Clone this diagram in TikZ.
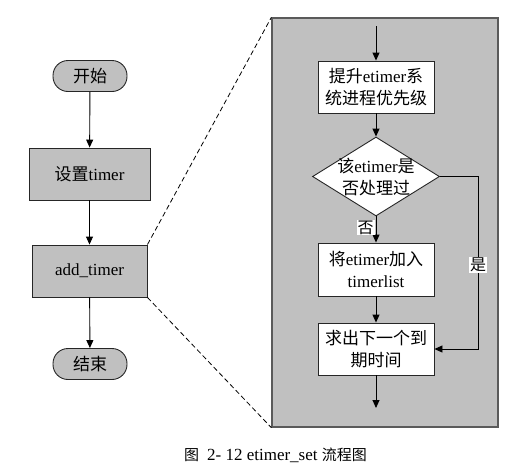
\documentclass[tikz,border=0pt]{standalone}
\usepackage{fontspec}
\setmainfont{Liberation Serif}
\newfontfamily\cjk{Noto Sans CJK SC}
\usetikzlibrary{shapes.geometric,arrows.meta}
\newcommand\zh[1]{{\cjk #1}}
\definecolor{boxgray}{RGB}{192,192,192}
\definecolor{panelline}{RGB}{90,90,90}
\tikzset{
  box/.style={draw=black!85, line width=0.9pt, rectangle, inner sep=0pt, align=center,
    font=\fontsize{17}{22}\selectfont},
  grayfill/.style={fill=boxgray},
  whitefill/.style={fill=white},
  term/.style={draw=black!85, line width=0.9pt, rounded corners=15pt, fill=boxgray,
    minimum width=74pt, minimum height=31pt, inner sep=0pt, font=\fontsize{17}{20}\selectfont},
  arr/.style={line width=0.9pt, -{Triangle[length=8pt,width=7pt]}},
  lbl/.style={fill=white, inner sep=1pt, font=\fontsize{16}{18}\selectfont},
  zoomline/.style={line width=0.8pt, dash pattern=on 5pt off 3pt},
}
\begin{document}
\begin{tikzpicture}[x=1pt,y=-1pt]
\useasboundingbox (0,0) rectangle (520,467);
% left column
\node[term] (start) at (90,76) {\zh{开始}};
\node[box,grayfill,minimum width=121pt,minimum height=52pt] (set) at (89.5,174) {\zh{设置}timer};
\node[box,grayfill,minimum width=115pt,minimum height=52pt] (add) at (89.5,271) {add\_timer};
\node[term] (end) at (90,364) {\zh{结束}};
\draw[arr] (start) -- (set);
\draw[arr] (set) -- (add);
\draw[arr] (add) -- (end);
% panel
\node[draw=panelline, line width=1.3pt, fill=boxgray, minimum width=226pt, minimum height=409pt, inner sep=0pt] (panel) at (385,222.5) {};
\draw[zoomline] (add.north east) -- (panel.north west);
\draw[zoomline] (add.south east) -- (panel.south west);
% inner flow
\coordinate (in) at (376,26);
\coordinate (out) at (376,408);
\node[box,whitefill,minimum width=116pt,minimum height=52pt] (b1) at (376,87) {\zh{提升}etimer\zh{系}\\\zh{统进程优先级}};
\node[draw=black!85, line width=0.9pt, fill=white, diamond, minimum width=127pt, minimum height=79pt, inner sep=0pt] (dia) at (376,176.5) {};
\node[align=center, inner sep=0pt, font=\fontsize{17}{22}\selectfont] (diat) at (dia.center) {\zh{该}etimer\zh{是}\\\zh{否处理过}};
\node[box,whitefill,minimum width=116pt,minimum height=53pt] (b2) at (376,269.5) {\zh{将}etimer\zh{加入}\\timerlist};
\node[box,whitefill,minimum width=116pt,minimum height=52pt] (b3) at (376,349) {\zh{求出下一个到}\\\zh{期时间}};
\coordinate (yc) at (478,349);
\draw[arr] (in) -- (b1);
\draw[arr] (b1) -- (dia);
\draw[arr] (dia) -- (b2) node[lbl, pos=0.42, left=1pt] (no) {\zh{否}};
\draw[arr] (b2) -- (b3);
\draw[arr] (b3) -- (out);
\draw[arr] (dia.east) -| (yc) -- (b3.east);
\node[lbl] (yes) at (478,265) {\zh{是}};
% caption
\node[font=\fontsize{17}{20}\selectfont] (cap) at (275.5,455) {{\fontsize{15}{18}\cjk 图}\hspace{8pt}2- 12 etimer\_set {\fontsize{15}{18}\cjk 流程图}};
\end{tikzpicture}
\end{document}
